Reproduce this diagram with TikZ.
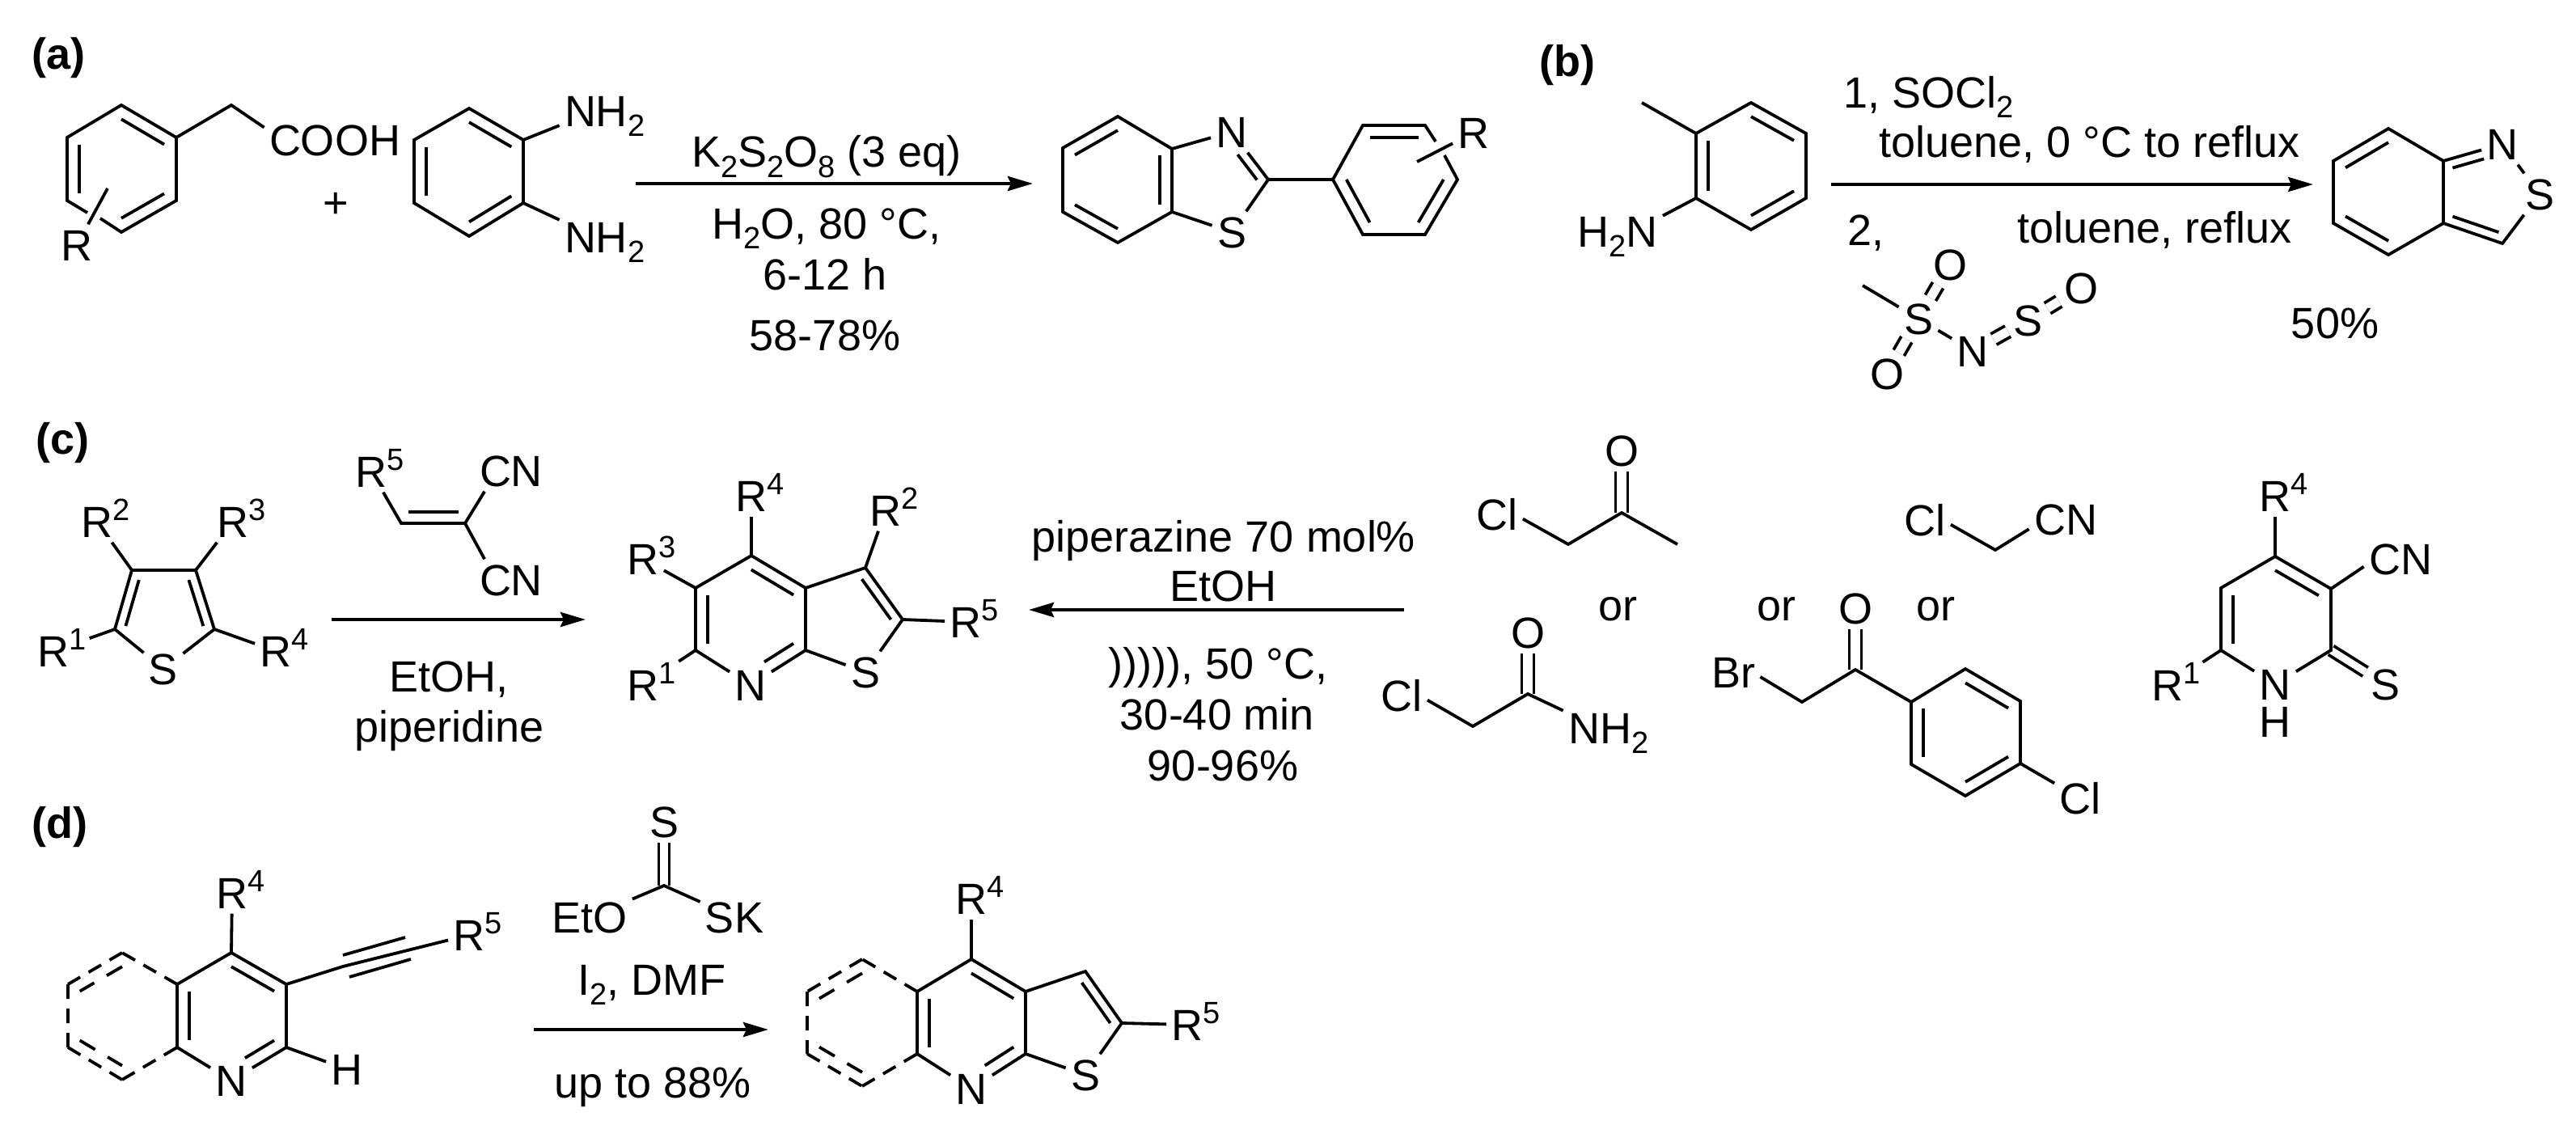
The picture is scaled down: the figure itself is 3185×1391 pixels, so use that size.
\documentclass[tikz,border=0pt]{standalone}
\usepackage{fontspec}
\setmainfont{Liberation Sans}
\usetikzlibrary{arrows.meta,calc}
\newcommand{\chemfont}{\fontsize{27}{32}\selectfont}
\newcommand{\dn}[1]{\raisebox{-6pt}{\fontsize{19}{19}\selectfont #1}}
\newcommand{\rdn}[1]{\rlap{\dn{#1}}}
\newcommand{\rup}[1]{\rlap{\raisebox{10.5pt}{\fontsize{19}{19}\selectfont #1}}}
\newcommand{\inb}[3]{\draw[bond] ($(#1)!.22!(#3)$) -- ($(#2)!.22!(#3)$);}
\newcommand{\inbs}[3]{\draw[bond] ($(#1)!.22!(#3)$) -- ($($(#1)!.22!(#3)$)!.68!($(#2)!.22!(#3)$)$);}
\begin{document}
\begin{tikzpicture}[x=0.5pt,y=-0.5pt]
\tikzstyle{every node}=[font=\chemfont]
\tikzstyle{atom}=[inner sep=3pt, text height=19.3pt, text depth=0pt]
\tikzstyle{tx}=[inner sep=0pt, anchor=base]
\tikzstyle{txw}=[inner sep=0pt, anchor=base west]
\tikzstyle{lab}=[inner sep=0pt, anchor=base west, font=\chemfont\bfseries]
\tikzstyle{bond}=[line width=1.9pt]
\tikzstyle{dbond}=[line width=1.9pt, double, double distance=5.6pt]
\tikzstyle{dbd}=[line width=1.9pt, dash pattern=on 9pt off 6pt]
\tikzstyle{ddi}=[line width=1.9pt, dash pattern=on 11pt off 9pt]
\tikzstyle{arr}=[line width=2.2pt, -{Stealth[length=15.5pt,width=9pt,inset=2pt]}]
\useasboundingbox (0,0) rectangle (3185,1391);

\node[lab] (la) at (39,86) {(a)};
\node[lab] (lb) at (1903,95) {(b)};
\node[lab] (lc) at (44,561) {(c)};
\node[lab] (ld) at (39,1036) {(d)};

\coordinate (a1) at (150,130); \coordinate (a2) at (218,170); \coordinate (a3) at (218,248);
\coordinate (a4) at (150,287); \coordinate (a5) at (83,248); \coordinate (a6) at (83,170);
\coordinate (ac) at (150,209); \coordinate (a7) at (108,263); \coordinate (a8) at (124,270);
\coordinate (a9) at (133,233); \coordinate (a10) at (286,130);
\node[atom] (aR) at (95,303) {R};
\node[atom] (aA) at (414,173) {COOH};
\node[atom] (aP) at (415,250) {+};
\draw[bond] (a8)--(a4)--(a3)--(a2)--(a1)--(a6)--(a5)--(a7);
\draw[bond] (a2)--(a10)--(aA.170);
\draw[bond] (a9)--(aR);
\inb{a1}{a2}{ac} \inb{a3}{a4}{ac} \inb{a5}{a6}{ac}

\coordinate (n1) at (580,134); \coordinate (n2) at (647,173); \coordinate (n3) at (647,251);
\coordinate (n4) at (580,292); \coordinate (n5) at (512,251); \coordinate (n6) at (512,173);
\coordinate (nc) at (580,212);
\node[atom] (nA) at (737,137) {NH\rdn{2}};
\node[atom] (nB) at (737,293) {NH\rdn{2}};
\draw[bond] (n1)--(n2)--(n3)--(n4)--(n5)--(n6)--cycle;
\draw[bond] (n2)--(nA);
\draw[bond] (n3)--(nB);
\inb{n1}{n2}{nc} \inb{n3}{n4}{nc} \inb{n5}{n6}{nc}

\coordinate (e1) at (786,227); \coordinate (e2) at (1277,227);
\draw[arr] (e1)--(e2);
\node[tx] (eA) at (1022,207) {K\dn{2}S\dn{2}O\dn{8} (3 eq)};
\node[tx] (eB) at (1022,295) {H\dn{2}O, 80 °C,};
\node[tx] (eC) at (1020,358) {6-12 h};
\node[tx] (eD) at (1020,433) {58-78\%};

\coordinate (q1) at (1382,144); \coordinate (q2) at (1449,184); \coordinate (q3) at (1449,262);
\coordinate (q4) at (1382,300); \coordinate (q5) at (1314,262); \coordinate (q6) at (1314,183);
\coordinate (qc) at (1382,222); \coordinate (q7) at (1568,222); \coordinate (qd) at (1505,224);
\node[atom] (qN) at (1523,163) {N};
\node[atom] (qS) at (1523,287) {S};
\draw[bond] (q1)--(q2)--(q3)--(q4)--(q5)--(q6)--cycle;
\draw[bond] (q2)--(qN)--(q7)--(qS)--(q3);
\inb{q1}{q6}{qc} \inb{q2}{q3}{qc} \inb{q5}{q4}{qc}
\inbs{q7}{qN}{qd}

\coordinate (h1) at (1648,222); \coordinate (h2) at (1685,155); \coordinate (h3) at (1762,155);
\coordinate (h4) at (1802,222); \coordinate (h5) at (1762,290); \coordinate (h6) at (1685,290);
\coordinate (hc) at (1724,222); \coordinate (h7) at (1775,175); \coordinate (h8) at (1786,192);
\coordinate (h9) at (1752,200);
\node[atom] (hR) at (1822,164) {R};
\draw[bond] (h8)--(h4)--(h5)--(h6)--(h1)--(h2)--(h3)--(h7);
\draw[bond] (q7)--(h1);
\draw[bond] (h9)--(hR);
\inb{h2}{h3}{hc} \inb{h4}{h5}{hc} \inb{h1}{h6}{hc}

\coordinate (t1) at (2165,127); \coordinate (t2) at (2233,165); \coordinate (t3) at (2233,245);
\coordinate (t4) at (2165,284); \coordinate (t5) at (2097,245); \coordinate (t6) at (2097,165);
\coordinate (tc) at (2165,205); \coordinate (t7) at (2030,127);
\node[atom] (tN) at (2000,286) {H\dn{2}N};
\draw[bond] (t1)--(t2)--(t3)--(t4)--(t5)--(t6)--cycle;
\draw[bond] (t6)--(t7);
\draw[bond] (t5)--(tN.19);
\inb{t1}{t2}{tc} \inb{t3}{t4}{tc} \inb{t5}{t6}{tc}

\coordinate (b1) at (2264,228); \coordinate (b2) at (2860,228);
\draw[arr] (b1)--(b2);
\node[txw] (bA) at (2279,134) {1, SOCl\dn{2}};
\node[txw] (bB) at (2323,195) {toluene, 0 °C to reflux};
\node[txw] (bC) at (2284,303) {2,};
\node[txw] (bD) at (2494,300) {toluene, reflux};
\node[tx] (bE) at (2887,418) {50\%};

\coordinate (m1) at (2303,353);
\node[atom] (mS) at (2372,394) {S};
\node[atom] (mO1) at (2411,327) {O};
\node[atom] (mO2) at (2333,462) {O};
\node[atom] (mN) at (2439,434) {N};
\node[atom] (mT) at (2507,396) {S};
\node[atom] (mO3) at (2573,356) {O};
\draw[bond] (m1)--(mS)--(mN);
\draw[dbond] (mS)--(mO1);
\draw[dbond] (mS)--(mO2);
\draw[dbond] (mN)--(mT);
\draw[dbond] (mT)--(mO3);

\coordinate (u1) at (2953,159); \coordinate (u2) at (3021,199); \coordinate (u3) at (3021,276);
\coordinate (u4) at (2953,315); \coordinate (u5) at (2885,276); \coordinate (u6) at (2885,199);
\coordinate (uc) at (2953,237); \coordinate (u7) at (3094,301); \coordinate (ud) at (3073,238);
\node[atom] (uN) at (3094,178) {N};
\node[atom] (uS) at (3140,240) {S};
\draw[bond] (u1)--(u2)--(u3)--(u4)--(u5)--(u6)--cycle;
\draw[bond] (u2)--(uN);
\draw[bond] (uN)--(uS);
\draw[bond] (uS)--(u7)--(u3);
\inb{u1}{u6}{uc} \inb{u5}{u4}{uc} \inb{u3}{u7}{ud}
\inbs{u2}{uN}{ud}

\coordinate (c1) at (163,705); \coordinate (c2) at (242,705); \coordinate (c3) at (265,778);
\coordinate (c4) at (142,778); \coordinate (cc) at (203,760);
\node[atom] (cS) at (202,827) {S};
\node[atom] (cA) at (120,645) {R\rup{2}};
\node[atom] (cB) at (288,645) {R\rup{3}};
\node[atom] (cC) at (66,805) {R\rup{1}};
\node[atom] (cD) at (341,805) {R\rup{4}};
\draw[bond] (cS)--(c4)--(c1)--(c2)--(c3)--(cS);
\draw[bond] (c1)--(cA);
\draw[bond] (c2)--(cB);
\draw[bond, shorten >=10pt] (c4)--(cC);
\draw[bond] (c3)--(cD);
\inb{c1}{c4}{cc} \inb{c2}{c3}{cc}

\coordinate (v1) at (496,647); \coordinate (v2) at (575,647); \coordinate (vc) at (537,583);
\node[atom] (vR) at (459,583) {R\rup{5}};
\node[atom] (vA) at (632,582) {CN};
\node[atom] (vB) at (632,717) {CN};
\draw[bond] (vR)--(v1)--(v2)--(vA.218);
\draw[bond] (v2)--(vB.142);
\inb{v1}{v2}{vc}

\coordinate (g1) at (410,766); \coordinate (g2) at (724,766);
\draw[arr] (g1)--(g2);
\node[tx] (gA) at (555,855) {EtOH,};
\node[tx] (gB) at (556,917) {piperidine};

\coordinate (w1) at (929,687); \coordinate (w2) at (996,727); \coordinate (w3) at (996,804);
\coordinate (w5) at (860,804); \coordinate (w6) at (860,727); \coordinate (wc) at (928,766);
\coordinate (w7) at (1070,702); \coordinate (w8) at (1116,766); \coordinate (wd) at (1050,766);
\node[atom] (wN) at (928,847) {N};
\node[atom] (wS) at (1070,831) {S};
\node[atom] (wA) at (929,613) {R\rup{4}};
\node[atom] (wB) at (795,691) {R\rup{3}};
\node[atom] (wC) at (795,847) {R\rup{1}};
\node[atom] (wD) at (1095,631) {R\rup{2}};
\node[atom] (wE) at (1194,769) {R\rup{5}};
\draw[bond] (wN)--(w3)--(w2)--(w1)--(w6)--(w5)--(wN);
\draw[bond] (w2)--(w7)--(w8)--(wS)--(w3);
\draw[bond] (w1)--(wA);
\draw[bond] (w6)--(wB);
\draw[bond, shorten >=11pt] (w5)--(wC);
\draw[bond] (w7)--(wD);
\draw[bond] (w8)--(wE);
\inb{w1}{w2}{wc} \inb{w6}{w5}{wc} \inb{w7}{w8}{wd}
\inbs{w3}{wN}{wc}

\coordinate (o1) at (1736,754); \coordinate (o2) at (1272,754);
\draw[arr] (o1)--(o2);
\node[tx] (oA) at (1513,682) {piperazine 70 mol\%};
\node[tx] (oB) at (1512,743) {EtOH};
\node[tx] (oC) at (1506,839) {))))), 50 °C,};
\node[tx] (oD) at (1505,902) {30-40 min};
\node[tx] (oE) at (1512,965) {90-96\%};

\coordinate (x1) at (1939,673); \coordinate (x2) at (2005,634); \coordinate (x3) at (2074,673);
\node[atom] (xA) at (1851,636) {Cl};
\node[atom] (xO) at (2005,557) {O};
\draw[dbond] (x2)--(xO);
\draw[bond] (xA.350)--(x1)--(x2)--(x3);

\coordinate (y1) at (1821,898); \coordinate (y2) at (1889,858);
\node[atom] (yA) at (1733,860) {Cl};
\node[atom] (yO) at (1889,782) {O};
\node[atom] (yN) at (1978,900) {NH\rdn{2}};
\draw[dbond] (y2)--(yO);
\draw[bond] (yA.350)--(y1)--(y2)--(yN);

\node[tx] (oF) at (2000,767) {or};
\node[tx] (oG) at (2196,767) {or};
\node[tx] (oH) at (2393,767) {or};

\coordinate (z1) at (2467,680);
\node[atom] (zA) at (2380,643) {Cl};
\node[atom] (zB) at (2554,642) {CN};
\draw[bond] (zA.350)--(z1)--(zB.195);

\coordinate (k1) at (2228,868); \coordinate (k2) at (2294,828);
\coordinate (r1) at (2363,868); \coordinate (r2) at (2430,827); \coordinate (r3) at (2498,867);
\coordinate (r4) at (2498,944); \coordinate (r5) at (2430,984); \coordinate (r6) at (2363,945);
\coordinate (rc) at (2430,906);
\node[atom] (kA) at (2143,831) {Br};
\node[atom] (kO) at (2294,752) {O};
\node[atom] (kC) at (2572,987) {Cl};
\draw[dbond] (k2)--(kO);
\draw[bond] (kA.350)--(k1)--(k2)--(r1);
\draw[bond] (r1)--(r2)--(r3)--(r4)--(r5)--(r6)--cycle;
\draw[bond] (r4)--(kC);
\inb{r2}{r3}{rc} \inb{r4}{r5}{rc} \inb{r6}{r1}{rc}

\coordinate (s1) at (2813,688); \coordinate (s2) at (2882,728); \coordinate (s3) at (2882,804);
\coordinate (s5) at (2746,804); \coordinate (s6) at (2746,727); \coordinate (sc) at (2813,766);
\node[atom] (sN) at (2813,846) {N};
\node[atom, inner sep=0pt] (sH) at (2813,892) {H};
\node[atom] (sS) at (2949,846) {S};
\node[atom] (sA) at (2813,613) {R\rup{4}};
\node[atom] (sB) at (2680,847) {R\rup{1}};
\node[atom] (sC) at (2968,691) {CN};
\draw[dbond, double distance=4.4pt] (s3)--(sS);
\draw[bond] (sN)--(s3)--(s2)--(s1)--(s6)--(s5)--(sN);
\draw[bond] (s1)--(sA);
\draw[bond, shorten >=10.5pt] (s5)--(sB);
\draw[bond] (s2)--(sC.192);
\inb{s1}{s2}{sc} \inb{s6}{s5}{sc}

\coordinate (f1) at (286,1178); \coordinate (f2) at (354,1217); \coordinate (f3) at (354,1295);
\coordinate (f5) at (219,1295); \coordinate (f6) at (219,1217); \coordinate (fc) at (286,1256);
\coordinate (f7) at (424,1195); \coordinate (f8) at (424,1181); \coordinate (f9) at (501,1159);
\coordinate (f10) at (432,1208); \coordinate (f11) at (508,1186);
\coordinate (d1) at (151,1178); \coordinate (d2) at (84,1217); \coordinate (d3) at (84,1295);
\coordinate (d4) at (151,1335); \coordinate (dc) at (151,1256);
\node[atom] (fN) at (286,1336) {N};
\node[atom] (fH) at (429,1322) {H};
\node[atom] (fA) at (287,1104) {R\rup{4}};
\node[atom] (fB) at (580,1156) {R\rup{5}};
\draw[bond] (fN)--(f3)--(f2)--(f1)--(f6)--(f5)--(fN);
\draw[bond] (f1)--(fA);
\draw[bond] (f3)--(fH);
\draw[bond] (f2)--(f7)--(fB);
\draw[bond] (f8)--(f9);
\draw[bond] (f10)--(f11);
\draw[dbd] (f6)--(d1) (d1)--(d2) (d2)--(d3) (d3)--(d4) (d4)--(f5);
\draw[ddi] ($(d1)!.22!(dc)$)--($(d2)!.22!(dc)$);
\draw[ddi] ($(d3)!.22!(dc)$)--($(d4)!.22!(dc)$);
\inb{f1}{f2}{fc} \inb{f6}{f5}{fc}
\inbs{f3}{fN}{fc}

\coordinate (l1) at (821,1095);
\node[atom] (lS) at (821,1016) {S};
\node[atom] (lO) at (729,1134) {EtO};
\node[atom] (lK) at (908,1134) {SK};
\draw[dbond, double distance=4.6pt] (l1)--(lS);
\draw[bond] (lO)--(l1)--(lK);
\coordinate (l2) at (660,1273); \coordinate (l3) at (950,1273);
\draw[arr] (l2)--(l3);
\node[tx] (lA) at (806,1230) {I\dn{2}, DMF};
\node[tx] (lB) at (807,1357) {up to 88\%};

\coordinate (j1) at (1201,1186); \coordinate (j2) at (1268,1226); \coordinate (j3) at (1268,1303);
\coordinate (j5) at (1134,1303); \coordinate (j6) at (1134,1226); \coordinate (jc) at (1201,1265);
\coordinate (j7) at (1342,1201); \coordinate (j8) at (1387,1265); \coordinate (jd) at (1322,1265);
\coordinate (i1) at (1066,1186); \coordinate (i2) at (998,1226); \coordinate (i3) at (998,1303);
\coordinate (i4) at (1066,1343); \coordinate (ic) at (1066,1265);
\node[atom] (jN) at (1201,1346) {N};
\node[atom] (jS) at (1342,1329) {S};
\node[atom] (jA) at (1201,1111) {R\rup{4}};
\node[atom] (jB) at (1468,1267) {R\rup{5}};
\draw[bond] (jN)--(j3)--(j2)--(j1)--(j6)--(j5)--(jN);
\draw[bond] (j2)--(j7)--(j8)--(jS)--(j3);
\draw[bond] (j1)--(jA);
\draw[bond] (j8)--(jB);
\draw[dbd] (j6)--(i1) (i1)--(i2) (i2)--(i3) (i3)--(i4) (i4)--(j5);
\draw[ddi] ($(i1)!.22!(ic)$)--($(i2)!.22!(ic)$);
\draw[ddi] ($(i3)!.22!(ic)$)--($(i4)!.22!(ic)$);
\inb{j1}{j2}{jc} \inb{j6}{j5}{jc} \inb{j7}{j8}{jd}
\inbs{j3}{jN}{jc}
\end{tikzpicture}
\end{document}
